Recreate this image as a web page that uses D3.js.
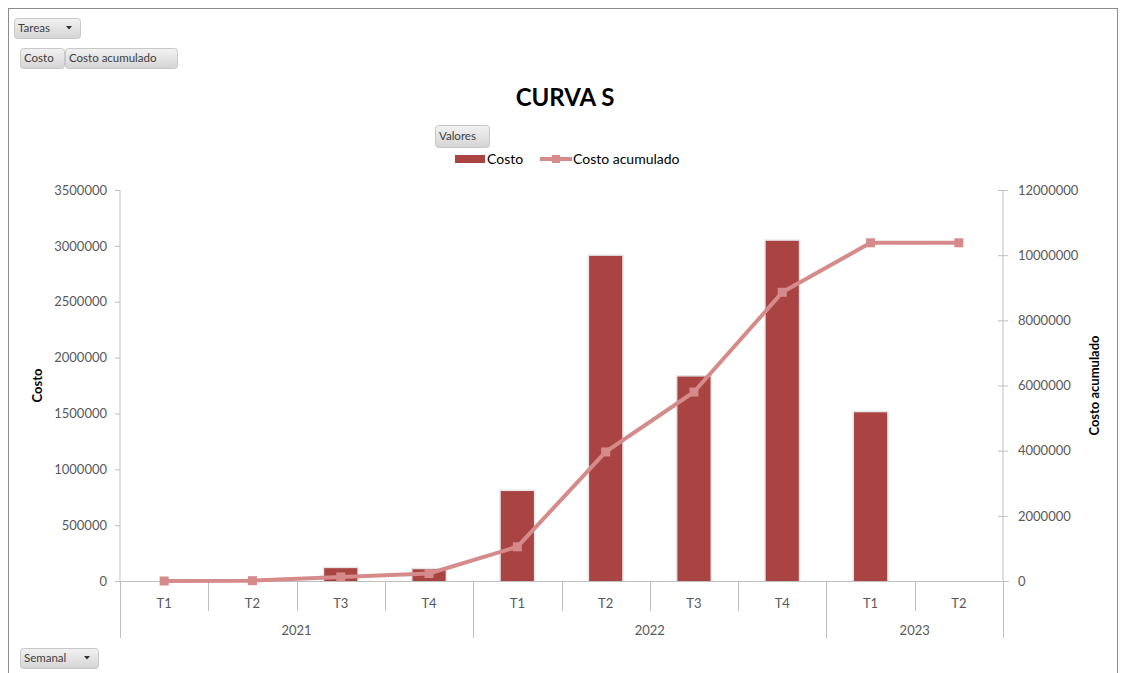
<!DOCTYPE html>
<html><head><meta charset="utf-8">
<script src="https://cdn.jsdelivr.net/npm/d3@7"></script>
<style>
body{margin:0;background:#fff;}
svg{display:block;font-family:Lato,"Open Sans",sans-serif;}
</style></head>
<body>
<svg id="c" width="1123" height="673"></svg>
<script>
const quarters = ["T1","T2","T3","T4","T1","T2","T3","T4","T1","T2"];
const years = ["2021","2021","2021","2021","2022","2022","2022","2022","2023","2023"];
const costo = [0, 0, 115000, 105000, 805000, 2910000, 1830000, 3045000, 1510000, 0];
const costoAcumulado = [0, 10000, 125000, 230000, 1050000, 3960000, 5800000, 8860000, 10380000, 10380000];
const leftTicks = [0,500000,1000000,1500000,2000000,2500000,3000000,3500000];
const rightTicks = [0,2000000,4000000,6000000,8000000,10000000,12000000];

const svg = d3.select("#c");
const W=1123,H=673;
const x0=120, x1=1003, yTop=190, yBot=581;
const idx = d3.range(quarters.length);
const x = d3.scaleBand().domain(idx).range([x0,x1]).paddingInner(0).paddingOuter(0);
const yL = d3.scaleLinear().domain([0,3500000]).range([yBot,yTop]);
const yR = d3.scaleLinear().domain([0,12000000]).range([yBot,yTop]);

const barCol="#A94442", lineCol="#D58B8A", axisCol="#BFBFBF", txtCol="#595959";

// defs
const defs = svg.append("defs");
const g1 = defs.append("linearGradient").attr("id","btn").attr("x1",0).attr("y1",0).attr("x2",0).attr("y2",1);
g1.append("stop").attr("offset","0%").attr("stop-color","#F2F2F2");
g1.append("stop").attr("offset","100%").attr("stop-color","#D4D4D4");

// frame
svg.append("rect").attr("x",8.5).attr("y",8.5).attr("width",1109).attr("height",680)
  .attr("fill","none").attr("stroke","#8C8C8C").attr("stroke-width",1);

// buttons
function button(bx,by,bw,bh,label,arrow){
  const g=svg.append("g");
  g.append("rect").attr("x",bx+0.5).attr("y",by+0.5).attr("width",bw).attr("height",bh).attr("rx",3)
    .attr("fill","url(#btn)").attr("stroke","#C8C8C8");
  g.append("text").attr("x",bx+4).attr("y",by+bh/2+4).attr("font-size",11.5).attr("fill","#3F3F3F").text(label);
  if(arrow){
    g.append("path").attr("d",`M${bx+bw-14},${by+bh/2-2} l6,0 l-3,3.5 z`).attr("fill","#333");
  }
}
button(14,18,66,20,"Tareas",true);
button(20,48,44,20,"Costo",false);
button(65,48,112,20,"Costo acumulado",false);
button(435,125,54,22,"Valores",false);
button(20,648,78,20,"Semanal",true);

// title
svg.append("text").attr("x",565).attr("y",106).attr("text-anchor","middle")
  .attr("font-size",24).attr("font-weight","bold").attr("fill","#000").text("CURVA S");

// legend
svg.append("rect").attr("x",455).attr("y",155).attr("width",30).attr("height",8).attr("fill",barCol);
svg.append("text").attr("x",487).attr("y",164).attr("font-size",14).attr("fill","#000").text("Costo");
svg.append("line").attr("x1",540).attr("x2",572).attr("y1",159).attr("y2",159).attr("stroke",lineCol).attr("stroke-width",4);
svg.append("rect").attr("x",552).attr("y",155).attr("width",8).attr("height",8).attr("fill",lineCol);
svg.append("text").attr("x",573).attr("y",164).attr("font-size",14).attr("fill","#000").text("Costo acumulado");

// left axis
const gl = svg.append("g").attr("transform",`translate(${x0},0)`)
  .call(d3.axisLeft(yL).tickValues(leftTicks).tickSize(5).tickPadding(8).tickFormat(d3.format("d")));
gl.select(".domain").attr("stroke",axisCol).attr("d",`M0,${yTop}V${yBot}`);
gl.selectAll(".tick line").attr("stroke",axisCol);
gl.selectAll(".tick text").attr("fill",txtCol).attr("font-size",13).attr("font-family","Lato,'Open Sans',sans-serif");

// right axis
const gr = svg.append("g").attr("transform",`translate(${x1},0)`)
  .call(d3.axisRight(yR).tickValues(rightTicks).tickSize(5).tickPadding(10).tickFormat(d3.format("d")));
gr.select(".domain").attr("stroke",axisCol).attr("d",`M0,${yTop}V${yBot}`);
gr.selectAll(".tick line").attr("stroke",axisCol).attr("x1",-5);
gr.selectAll(".tick text").attr("fill",txtCol).attr("font-size",13).attr("font-family","Lato,'Open Sans',sans-serif");

// axis titles
svg.append("text").attr("transform",`translate(42,${(yTop+yBot)/2}) rotate(-90)`).attr("text-anchor","middle")
  .attr("font-size",13).attr("font-weight","bold").attr("fill","#000").text("Costo");
svg.append("text").attr("transform",`translate(1099,${(yTop+yBot)/2}) rotate(-90)`).attr("text-anchor","middle")
  .attr("font-size",13).attr("font-weight","bold").attr("fill","#000").text("Costo acumulado");

// category axis
const bw = x.bandwidth();
svg.append("line").attr("x1",x0-5).attr("x2",x1+6).attr("y1",yBot+0.5).attr("y2",yBot+0.5).attr("stroke",axisCol);
// separators
idx.forEach(i=>{
  const xs = Math.round(x(i))+0.5;
  const yearStart = i===0 || years[i]!==years[i-1];
  svg.append("line").attr("x1",xs).attr("x2",xs).attr("y1",yBot).attr("y2",yearStart?638:611).attr("stroke",axisCol);
});
svg.append("line").attr("x1",x1+0.5).attr("x2",x1+0.5).attr("y1",yBot).attr("y2",638).attr("stroke",axisCol);
svg.selectAll(".qlab").data(idx).enter().append("text")
  .attr("x",i=>x(i)+bw/2).attr("y",608).attr("text-anchor","middle").attr("font-size",13).attr("fill",txtCol)
  .text(i=>quarters[i]);
const yearGroups = d3.groups(idx, i=>years[i]);
yearGroups.forEach(([yr,ii])=>{
  const a=x(ii[0]), b=x(ii[ii.length-1])+bw;
  svg.append("text").attr("x",(a+b)/2).attr("y",635).attr("text-anchor","middle").attr("font-size",13).attr("fill",txtCol).text(yr);
});

// bars
const barW = bw*0.375;
const bars = svg.append("g");
bars.selectAll(".sh").data(idx.filter(i=>costo[i]>0)).enter().append("rect")
  .attr("x",i=>x(i)+bw/2-barW/2-1.5).attr("y",i=>yL(costo[i])-1.5).attr("width",barW+3)
  .attr("height",i=>yBot-yL(costo[i])+1.5).attr("fill","#E6E6E6");
bars.selectAll(".b").data(idx.filter(i=>costo[i]>0)).enter().append("rect")
  .attr("x",i=>x(i)+bw/2-barW/2).attr("y",i=>yL(costo[i])).attr("width",barW)
  .attr("height",i=>yBot-yL(costo[i])).attr("fill",barCol);

// line
const line = d3.line().x(i=>x(i)+bw/2).y(i=>yR(costoAcumulado[i]));
svg.append("path").datum(idx).attr("d",line).attr("fill","none").attr("stroke",lineCol)
  .attr("stroke-width",4).attr("stroke-linejoin","round");
svg.selectAll(".m").data(idx).enter().append("rect")
  .attr("x",i=>x(i)+bw/2-4.5).attr("y",i=>yR(costoAcumulado[i])-4.5).attr("width",9).attr("height",9)
  .attr("fill",lineCol);
</script>
</body></html>
